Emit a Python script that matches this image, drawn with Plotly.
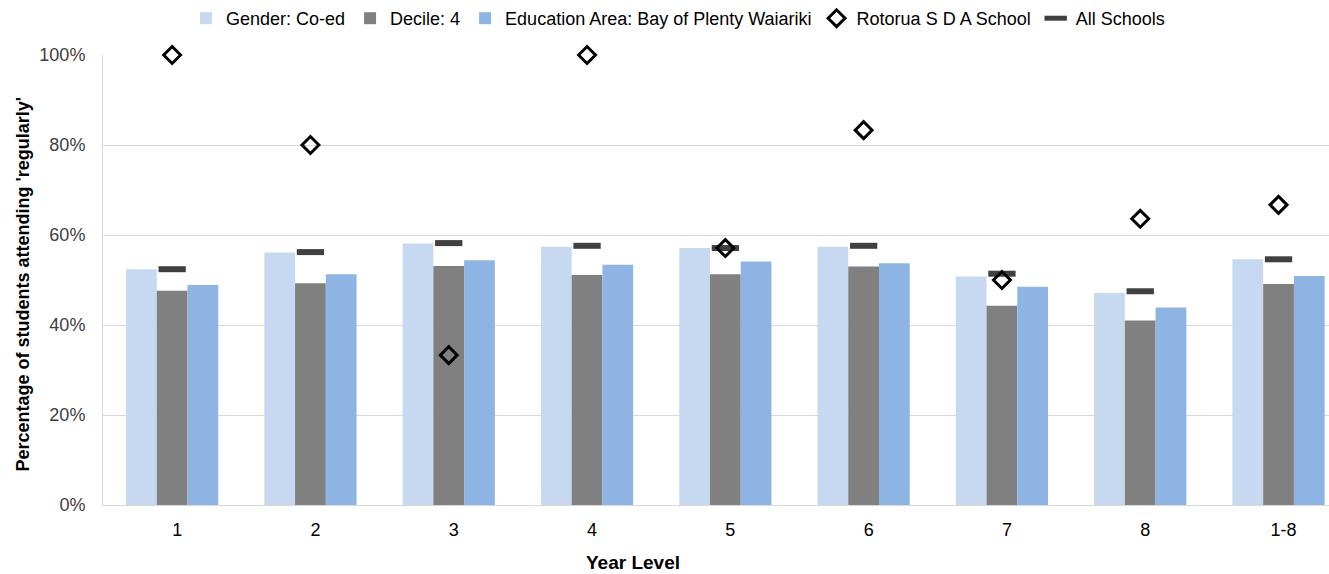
import plotly.graph_objects as go

# Year levels shown along the x axis
year_levels = ["1", "2", "3", "4", "5", "6", "7", "8", "1-8"]

# Percentage of students attending 'regularly' for each comparison group
gender_coed = [52.4, 56.1, 58.1, 57.4, 57.1, 57.4, 50.8, 47.1, 54.6]
decile_4 = [47.6, 49.3, 53.1, 51.1, 51.3, 53.0, 44.3, 41.0, 49.1]
edu_area = [48.9, 51.3, 54.4, 53.4, 54.1, 53.7, 48.5, 43.9, 50.9]
rotorua_sda = [100.0, 80.0, 33.3, 100.0, 57.1, 83.3, 50.0, 63.6, 66.7]
all_schools = [52.4, 56.2, 58.2, 57.6, 57.1, 57.6, 51.4, 47.5, 54.6]

y_ticks = [0, 20, 40, 60, 80, 100]
y_tick_text = [f"{v}%" for v in y_ticks]

FONT = "Liberation Sans, Arial, sans-serif"
GRID = "#d9d9d9"

fig = go.Figure()

bar_series = [
    ("Gender: Co-ed", gender_coed, "#c6d9f1"),
    ("Decile: 4", decile_4, "#808080"),
    ("Education Area: Bay of Plenty Waiariki", edu_area, "#8eb4e3"),
]
for rank, (name, values, colour) in enumerate(bar_series):
    fig.add_trace(go.Bar(
        name=name, x=year_levels, y=values,
        marker=dict(color=colour, line=dict(width=0)),
        legendrank=rank + 1,
        hoverinfo="x+y+name",
    ))

fig.add_trace(go.Scatter(
    name="All Schools", x=year_levels, y=all_schools, mode="markers",
    marker=dict(symbol="line-ew", size=19.5, color="#404040",
                line=dict(width=6, color="#404040")),
    legendrank=5, cliponaxis=False,
))

fig.add_trace(go.Scatter(
    name="Rotorua S D A School", x=year_levels, y=rotorua_sda, mode="markers",
    marker=dict(symbol="diamond-open", size=13, color="#000000",
                line=dict(width=3, color="#000000")),
    legendrank=4, cliponaxis=False,
))

fig.update_layout(
    width=1329, height=574,
    margin=dict(l=103, r=0, t=52, b=69),
    paper_bgcolor="white", plot_bgcolor="white",
    font=dict(family=FONT, size=18, color="#404040"),
    barmode="group", bargap=0.333, bargroupgap=0,
    showlegend=True,
    legend=dict(
        orientation="h", x=0.469, xanchor="center", y=1.082, yanchor="middle",
        font=dict(family=FONT, size=18, color="#000000"),
        traceorder="normal", itemwidth=30,
        bgcolor="rgba(0,0,0,0)",
    ),
    xaxis=dict(
        type="category", range=[-0.5, 8.365],
        showgrid=False, showline=True, linecolor=GRID, linewidth=1,
        ticks="", tickfont=dict(family=FONT, size=18, color="#000000"),
        ticklabelstandoff=8, ticklabelshift=5, zeroline=False,
    ),
    yaxis=dict(
        range=[0, 100], tickmode="array", tickvals=y_ticks, ticktext=y_tick_text,
        showgrid=True, gridcolor=GRID, gridwidth=1,
        showline=True, linecolor=GRID, linewidth=1,
        ticks="", tickfont=dict(family=FONT, size=18, color="#404040"),
        ticklabelstandoff=13, zeroline=False,
    ),
    annotations=[
        dict(text="<b>Year Level</b>", xref="paper", yref="paper",
             x=0.432, y=-0.128, xanchor="center", yanchor="middle",
             showarrow=False, font=dict(family=FONT, size=19, color="#000000")),
        dict(text="<b>Percentage of students attending 'regularly'</b>",
             xref="paper", yref="paper", x=-0.066, y=0.49,
             xanchor="center", yanchor="middle", textangle=-90,
             showarrow=False, font=dict(family=FONT, size=18, color="#000000")),
    ],
)

fig.write_html("out.html")
